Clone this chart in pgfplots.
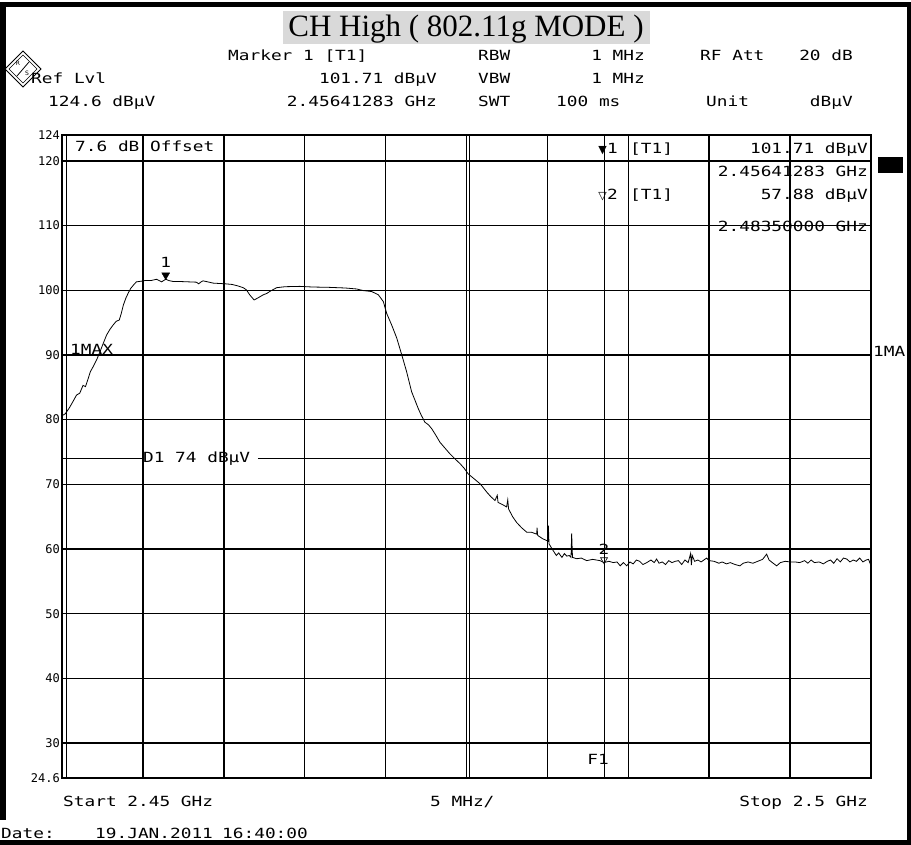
\documentclass[border=0pt]{standalone}
\usepackage{pgfplots}
\pgfplotsset{compat=1.18}
\usepackage{fontspec}
\setmainfont{Liberation Serif}
\newfontfamily\rs[FakeStretch=1.27]{DejaVu Sans Mono}
\newfontfamily\rst{DejaVu Sans Mono}
\newfontfamily\dvs{DejaVu Sans}
\newcommand{\rsf}{\rs\fontsize{14}{14}\selectfont}
\newcommand{\tkf}{\rst\fontsize{12}{12}\selectfont}
\definecolor{titlegray}{HTML}{D9D9D9}
\begin{document}
\begin{tikzpicture}[x=1pt,y=1pt]
\useasboundingbox (0,0) rectangle (911,-845);
% outer frame
\fill (0,-2) rectangle (911,-7);
\fill (0,-2) rectangle (6,-820);
\fill (0,-840) rectangle (911,-845);
\fill (907,-2) rectangle (911,-845);
% title
\fill[titlegray] (283,-11) rectangle (650,-44);
\node[anchor=base, inner sep=0pt, font=\fontsize{31}{31}\selectfont] at (466,-37) {CH High ( 802.11g MODE )};
% logo
\draw[line width=0.8pt] (5,-69) -- (23,-51) -- (41,-69) -- (23,-87) -- cycle;
\draw[line width=0.6pt] (9,-69) -- (23,-55) -- (37,-69) -- (23,-83) -- cycle;
\draw[line width=0.8pt] (29,-62) -- (17,-76);
\node[font=\dvs\fontsize{6}{6}\selectfont, inner sep=0pt] at (18,-63) {R};
\node[font=\dvs\fontsize{6}{6}\selectfont, inner sep=0pt] at (27,-73) {S};
% header
\begin{scope}[every node/.style={inner sep=0pt, font=\rsf}]
\node[anchor=base west] at (228,-61) {Marker 1 [T1]};
\node[anchor=base west] at (478,-61) {RBW};
\node[anchor=base east] at (645,-61) {1 MHz};
\node[anchor=base west] at (700,-61) {RF Att};
\node[anchor=base east] at (853,-61) {20 dB};
\node[anchor=base west] at (31,-84) {Ref Lvl};
\node[anchor=base east] at (437,-84) {101.71 dBµV};
\node[anchor=base west] at (478,-84) {VBW};
\node[anchor=base east] at (645,-84) {1 MHz};
\node[anchor=base west] at (48,-107) {124.6 dBµV};
\node[anchor=base east] at (437,-107) {2.45641283 GHz};
\node[anchor=base west] at (478,-107) {SWT};
\node[anchor=base west] at (556,-107) {100 ms};
\node[anchor=base west] at (706,-107) {Unit};
\node[anchor=base east] at (853,-107) {dBµV};
% footer
\node[anchor=base west] at (63,-806) {Start 2.45 GHz};
\node[anchor=base west] at (430,-806) {5 MHz/};
\node[anchor=base east] at (868,-806) {Stop 2.5 GHz};
\node[anchor=base west] at (1,-838) {Date:};
\node[anchor=base west] at (95,-838) {19.JAN.2011};
\node[anchor=base west] at (222,-838) {16:40:00};
\end{scope}
\begin{axis}[
  at={(62pt,-778pt)}, anchor=south west,
  scale only axis, width=809pt, height=643pt,
  xmin=0, xmax=50, ymin=24.6, ymax=124,
  xtick={0,5,...,50}, xticklabels={},
  ytick={24.6,30,40,50,60,70,80,90,100,110,120,124},
  yticklabels={24.6,30,40,50,60,70,80,90,100,110,120,124},
  yticklabel style={font=\tkf, inner sep=2pt},
  grid=major, major grid style={black, line width=1.5pt},
  axis line style={line width=1.8pt},
  major tick length=0pt,
]
\addplot[black, line width=0.8pt, mark=none] coordinates {
(0,80.6) (0.2,80.9) (0.45,81.8) (0.7,82.9) (0.9,83.8) (1.1,84.1) (1.3,85.3) (1.45,85.1) (1.6,86.2) (1.75,87.4) (1.95,88.3) (2.15,89.3) (2.35,90.5) (2.55,91.8) (2.76,93.1) (2.95,93.9) (3.15,94.6) (3.35,95.2) (3.54,95.4) (3.65,96.3) (3.79,97.7) (3.95,98.8) (4.1,99.6) (4.25,100.3) (4.45,100.9) (4.6,101.3) (4.9,101.4) (5.13,101.5) (5.5,101.5) (5.85,101.7) (6.0,101.5) (6.16,101.3) (6.41,101.71) (6.6,101.5) (6.88,101.35) (7.3,101.35) (7.8,101.3) (8.3,101.25) (8.45,101.0) (8.6,101.3) (8.72,101.45) (9.0,101.3) (9.35,101.1) (9.7,101.05) (10.07,101.0) (10.5,100.9) (10.9,100.65) (11.2,100.4) (11.4,100.05) (11.6,99.3) (11.87,98.5) (12.1,98.8) (12.44,99.3) (12.65,99.5) (12.9,99.9) (13.27,100.4) (13.8,100.55) (14.7,100.6) (15.5,100.5) (16.5,100.45) (17.5,100.35) (18.2,100.2) (18.62,99.95) (19.14,99.8) (19.55,99.3) (19.86,98.25) (20.07,96.4) (20.38,94.6) (20.69,92.6) (21.0,90.0) (21.3,87.4) (21.61,84.3) (21.8,83.1) (22.02,81.7) (22.2,80.7) (22.43,79.6) (22.65,79.2) (22.85,78.6) (23.1,77.6) (23.36,76.5) (23.6,75.8) (23.98,74.7) (24.3,73.9) (24.6,73.2) (24.85,72.5) (25.11,71.6) (25.4,71.0) (25.83,70.1) (26.0,69.6) (26.25,68.8) (26.5,68.1) (26.76,67.5) (26.9,68.3) (26.95,67.2) (27.2,66.9) (27.48,66.5) (27.55,67.6) (27.6,66.2) (27.85,65.0) (28.1,64.1) (28.4,63.3) (28.72,62.6) (29.0,62.6) (29.34,62.3) (29.36,63.3) (29.4,62.1) (29.7,61.6) (29.96,61.3) (30.03,61.2) (30.06,63.6) (30.1,60.8) (30.37,59.7) (30.55,59.0) (30.7,59.4) (30.78,59.1) (30.9,58.7) (31.05,59.3) (31.2,58.9) (31.35,59.0) (31.46,58.7) (31.5,62.4) (31.55,58.7) (31.81,58.5) (32.1,58.6) (32.43,58.2) (32.8,58.4) (33.25,58.2) (33.5,57.9) (33.8,58.1) (34.07,57.9) (34.3,58.0) (34.5,57.4) (34.7,57.9) (34.9,57.4) (35.1,58.0) (35.3,57.7) (35.5,58.3) (35.7,58.1) (35.9,57.6) (36.14,57.9) (36.4,58.3) (36.6,57.9) (36.75,58.45) (36.9,57.8) (37.1,58.0) (37.3,57.6) (37.5,58.2) (37.7,57.9) (37.9,58.1) (38.1,58.2) (38.3,57.6) (38.5,58.3) (38.7,57.9) (38.85,59.3) (38.9,57.5) (38.95,59.0) (39.1,58.1) (39.3,58.3) (39.5,58.0) (39.84,58.6) (40.0,58.2) (40.3,58.1) (40.6,57.8) (40.8,58.0) (41.07,57.7) (41.3,57.9) (41.6,57.6) (41.9,57.4) (42.1,57.8) (42.4,58.0) (42.7,57.8) (43.0,58.1) (43.3,58.4) (43.55,59.2) (43.7,58.3) (43.9,57.9) (44.17,57.4) (44.4,57.9) (44.7,58.1) (45.0,58.0) (45.3,58.0) (45.6,57.9) (45.9,58.2) (46.1,57.8) (46.3,58.3) (46.5,57.9) (46.8,58.0) (47.05,57.7) (47.3,58.1) (47.5,58.3) (47.7,57.8) (47.9,58.5) (48.1,58.0) (48.3,58.6) (48.5,58.45) (48.7,58.0) (48.9,58.3) (49.1,58.1) (49.3,58.6) (49.5,58.0) (49.7,58.3) (49.85,58.4) (50,57.4)
};
% markers
\addplot[only marks, mark=triangle*, mark size=4.5pt, mark options={yshift=4pt, rotate=180, fill=black, draw=black}] coordinates {(6.41,101.71)};
\addplot[only marks, mark=triangle, mark size=4pt, mark options={yshift=3pt, rotate=180, fill=white, draw=black, line width=0.6pt}] coordinates {(33.5,57.88)};
\node[font=\rsf, inner sep=0pt] at (axis cs:6.41,101.71) [yshift=17pt] {1};
\node[font=\rsf, inner sep=0pt] at (axis cs:33.5,57.88) [yshift=13pt] {2};
% extra lines
\draw[line width=1pt] (axis cs:0.25,24.6) -- (axis cs:0.25,124);
\draw[line width=1pt] (axis cs:25.18,24.6) -- (axis cs:25.18,124);
\draw[line width=0.8pt] (axis cs:33.5,24.6) -- (axis cs:33.5,124);
\draw[line width=1pt] (axis cs:0,74) -- (axis cs:4.95,74);
\draw[line width=1pt] (axis cs:12.1,74) -- (axis cs:50,74);
\node[font=\rsf, anchor=west, inner sep=0pt] at (axis cs:5.0,74) {D1 74 dBµV};
\end{axis}
% annotations inside plot
\begin{scope}[every node/.style={inner sep=0pt, font=\rsf}]
\node[anchor=base west] at (75,-152) {7.6 dB Offset};
\node[anchor=base east, font=\dvs\fontsize{11}{11}\selectfont] at (607,-154) {▼};
\node[anchor=base west] at (607,-154) {1};
\node[anchor=base west] at (630,-154) {[T1]};
\node[anchor=base east] at (868,-154) {101.71 dBµV};
\node[anchor=base east] at (868,-177) {2.45641283 GHz};
\node[anchor=base east, font=\dvs\fontsize{11}{11}\selectfont] at (607,-200) {▽};
\node[anchor=base west] at (607,-200) {2};
\node[anchor=base west] at (630,-200) {[T1]};
\node[anchor=base east] at (868,-200) {57.88 dBµV};
\node[anchor=base east] at (868,-232) {2.48350000 GHz};
\node[anchor=base west] at (70,-355) {1MAX};
\node[anchor=base west] at (873,-356) {1MA};
\node[anchor=base] at (598,-764) {F1};
\end{scope}
\fill (878,-157) rectangle (903,-173);
\end{tikzpicture}
\end{document}
